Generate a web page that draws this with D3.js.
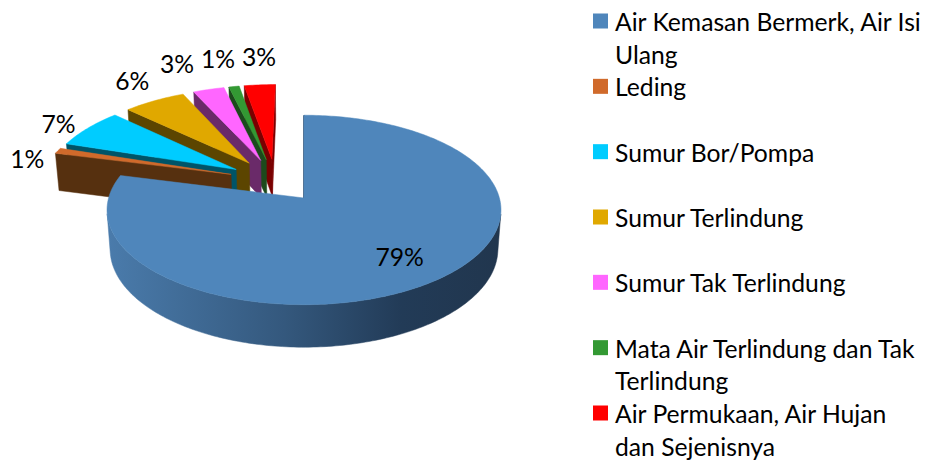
<!DOCTYPE html>
<html>
<head>
<meta charset="utf-8">
<script src="https://cdn.jsdelivr.net/npm/d3@7"></script>
<style>
  body { margin: 0; background: #fff; }
  text { font-family: Lato, "Noto Sans", sans-serif; fill: #000; }
</style>
</head>
<body>
<div id="chart"></div>
<script>
// data
const categories = [
  "Air Kemasan Bermerk, Air Isi Ulang",
  "Leding",
  "Sumur Bor/Pompa",
  "Sumur Terlindung",
  "Sumur Tak Terlindung",
  "Mata Air Terlindung dan Tak Terlindung",
  "Air Permukaan, Air Hujan dan Sejenisnya"
];
const values = [79, 1, 7, 6, 3, 1, 3];
const valueLabels = ["79%", "1%", "7%", "6%", "3%", "1%", "3%"];

// colours: top face and darker side walls
const topColors  = ["#4f86bb", "#d06a2b", "#00ccff", "#e0a800", "#ff66ff", "#339933", "#ff0000"];
const sideColors = ["#2c4d6e", "#56300f", "#005468", "#5c4500", "#6a2a69", "#1c4a1c", "#7a0000"];

const width = 926, height = 461;
const fontSize = 24.7;

const svg = d3.select("#chart")
  .append("svg")
  .attr("width", width)
  .attr("height", height);

// simple perspective camera for the tilted pie (unit radius disc)
const cam = {x: 304, y: 198, f: 1362, dist: 6.97, sin: 0.477, cos: 0.879};
const thick = 0.23, explode = 0.245;
const camPos = [0, cam.dist * cam.sin, cam.dist * cam.cos];

function project(X, Y, Z) {
  const depth = cam.dist - (Z * cam.cos + Y * cam.sin);
  const v = Y * cam.cos - Z * cam.sin;
  return [cam.x + cam.f * X / depth, cam.y - cam.f * v / depth];
}
const dirX = a => Math.sin(a), dirZ = a => -Math.cos(a);

const arcs = d3.pie().sort(null).value(d => d)(values);
const baseMid = (arcs[0].startAngle + arcs[0].endAngle) / 2;
const origin = [-explode * dirX(baseMid), -explode * dirZ(baseMid)];

const slices = arcs.map((p, i) => {
  const mid = (p.startAngle + p.endAngle) / 2;
  return {
    i, a0: p.startAngle, a1: p.endAngle, mid,
    cx: origin[0] + explode * dirX(mid),
    cz: origin[1] + explode * dirZ(mid)
  };
});

const line = d3.line().curve(d3.curveLinearClosed);

function rimPoint(s, a, Y) { return project(s.cx + dirX(a), Y, s.cz + dirZ(a)); }
function sampleAngles(a0, a1) {
  const n = Math.max(2, Math.ceil((a1 - a0) / (Math.PI / 180)));
  return d3.range(n + 1).map(k => a0 + (a1 - a0) * k / n);
}
function facing(nx, nz, px, pz) {
  return nx * (camPos[0] - px) + nz * (camPos[2] - pz);
}

// blue side gradient
const defs = svg.append("defs");
const grad = defs.append("linearGradient")
  .attr("id", "rimGrad")
  .attr("gradientUnits", "userSpaceOnUse")
  .attr("x1", project(-1, 0, 0)[0]).attr("x2", project(1, 0, 0)[0])
  .attr("y1", 0).attr("y2", 0);
[[0, "#4a7bab"], [0.45, "#34587d"], [0.75, "#223b57"], [1, "#21364e"]].forEach(s =>
  grad.append("stop").attr("offset", s[0]).attr("stop-color", s[1]));

const pieG = svg.append("g");

// back to front
const order = slices.slice().sort((a, b) => (a.cz + 0.5 * dirZ(a.mid)) - (b.cz + 0.5 * dirZ(b.mid)));

order.forEach(s => {
  const g = pieG.append("g");
  const side = s.i === 0 ? "url(#rimGrad)" : sideColors[s.i];
  const apexTop = project(s.cx, 0, s.cz), apexBot = project(s.cx, -thick, s.cz);

  // radial walls (an edge-on wall still shows as a thin dark line)
  const walls = [
    {a: s.a0, nx: -Math.cos(s.a0), nz: -Math.sin(s.a0)},
    {a: s.a1, nx: Math.cos(s.a1), nz: Math.sin(s.a1)}
  ];
  walls.forEach(w => {
    const px = s.cx + 0.5 * dirX(w.a), pz = s.cz + 0.5 * dirZ(w.a);
    const f = facing(w.nx, w.nz, px, pz);
    if (f < -1e-6) return;
    g.append("path")
      .attr("d", line([apexTop, rimPoint(s, w.a, 0), rimPoint(s, w.a, -thick), apexBot]))
      .attr("fill", sideColors[s.i])
      .attr("stroke", sideColors[s.i]).attr("stroke-width", f < 1e-3 ? 1.6 : 0.5);
  });

  // outer rim, only the parts turned to the camera
  const angs = sampleAngles(s.a0, s.a1);
  let run = [];
  const runs = [];
  for (let k = 0; k < angs.length - 1; k++) {
    const a = (angs[k] + angs[k + 1]) / 2;
    const vis = facing(dirX(a), dirZ(a), s.cx + dirX(a), s.cz + dirZ(a)) > 0;
    if (vis) { if (!run.length) run.push(angs[k]); run.push(angs[k + 1]); }
    else if (run.length) { runs.push(run); run = []; }
  }
  if (run.length) runs.push(run);
  runs.forEach(r => {
    const pts = r.map(a => rimPoint(s, a, 0)).concat(r.slice().reverse().map(a => rimPoint(s, a, -thick)));
    g.append("path")
      .attr("d", line(pts))
      .attr("fill", side)
      .attr("stroke", side).attr("stroke-width", 0.5);
  });

  // top face
  g.append("path")
    .attr("d", line([apexTop].concat(angs.map(a => rimPoint(s, a, 0)))))
    .attr("fill", topColors[s.i])
    .attr("stroke", topColors[s.i]).attr("stroke-width", 0.5);
});

// value labels: inside for the big slice, outside end for the rest
const labelPos = slices.map(s => {
  if (s.i === 0) {
    return project(s.cx + 0.74 * dirX(s.mid), 0, s.cz + 0.74 * dirZ(s.mid));
  }
  const sn = Math.sin(s.mid), cs = Math.cos(s.mid);
  const r = 1.2 + 0.15 * cs * cs;
  const Y = -thick / 2 * Math.pow(sn, 6);
  const p = project(s.cx + r * dirX(s.mid), Y, s.cz + r * dirZ(s.mid));
  return [p[0] + 3, p[1] - 6 * cs];
});
// push crowded labels apart (right to left)
const minGap = 41;
const outer = slices.filter(s => s.i > 0).sort((a, b) => labelPos[b.i][0] - labelPos[a.i][0]);
for (let k = 1; k < outer.length; k++) {
  const prev = labelPos[outer[k - 1].i], cur = labelPos[outer[k].i];
  if (Math.abs(prev[1] - cur[1]) < 22 && prev[0] - cur[0] < minGap) cur[0] = prev[0] - minGap;
}

svg.append("g").selectAll("text")
  .data(slices)
  .enter()
  .append("text")
    .attr("x", d => labelPos[d.i][0])
    .attr("y", d => labelPos[d.i][1])
    .attr("text-anchor", "middle")
    .attr("dominant-baseline", "central")
    .style("font-size", fontSize + "px")
    .text(d => valueLabels[d.i]);

// legend
const legendY = d3.scalePoint().domain(categories).range([21, 413]);
const legendX = 593, box = 15, textX = 615, maxW = 310, lineH = 32.5;
const legend = svg.append("g");

categories.forEach((c, i) => {
  const y = legendY(c);
  legend.append("rect")
    .attr("x", legendX).attr("y", y - box / 2)
    .attr("width", box).attr("height", box)
    .attr("fill", topColors[i]);
  const t = legend.append("text")
    .attr("x", textX).attr("y", y)
    .attr("dominant-baseline", "central")
    .style("font-size", fontSize + "px");
  // wrap words to the legend width
  const words = c.split(" ");
  let lineNo = 0, cur = [];
  let tspan = t.append("tspan").attr("x", textX).attr("y", y);
  words.forEach(w => {
    cur.push(w);
    tspan.text(cur.join(" "));
    if (tspan.node().getComputedTextLength() > maxW && cur.length > 1) {
      cur.pop();
      tspan.text(cur.join(" "));
      cur = [w];
      lineNo++;
      tspan = t.append("tspan").attr("x", textX).attr("y", y + lineNo * lineH).text(w);
    }
  });
});
</script>
</body>
</html>
